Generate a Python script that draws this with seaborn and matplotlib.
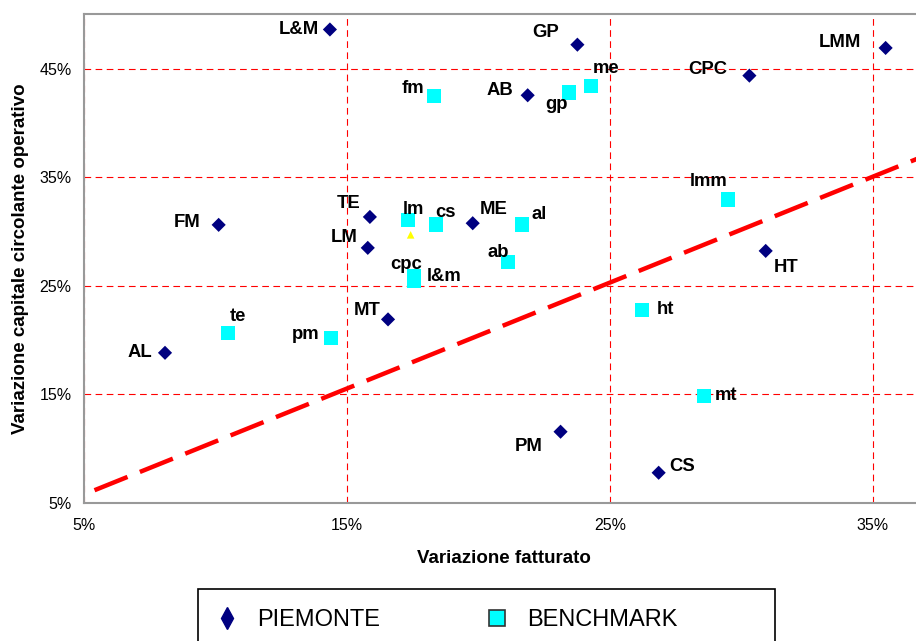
import matplotlib
matplotlib.use("Agg")
import matplotlib.pyplot as plt
import matplotlib.patches as mpatches
from matplotlib.lines import Line2D
import seaborn as sns
import pandas as pd

# --- Data (values in %) ---
piemonte_labels = ["L&M", "GP", "LMM", "CPC", "AB", "FM", "TE", "LM", "ME", "HT", "MT", "AL", "PM", "CS"]
piemonte_x = [14.35, 23.76, 35.48, 30.30, 21.87, 10.12, 15.87, 15.79, 19.78, 30.92, 16.56, 8.08, 23.12, 26.85]
piemonte_y = [48.60, 47.20, 46.90, 44.35, 42.54, 30.60, 31.33, 28.48, 30.75, 28.20, 21.89, 18.81, 11.54, 7.76]

bench_labels = ["fm", "gp", "me", "lm", "cs", "al", "ab", "cpc", "l&m", "lmm", "te", "pm", "ht", "mt"]
bench_x = [18.31, 23.44, 24.29, 17.33, 18.37, 21.64, 21.12, 17.55, 17.55, 29.49, 10.48, 14.40, 26.23, 28.56]
bench_y = [42.48, 42.79, 43.40, 31.03, 30.63, 30.63, 27.16, 25.87, 25.41, 32.94, 20.63, 20.19, 22.77, 14.85]

extra_x = [17.42]
extra_y = [29.68]

trend_x = [5.4, 36.9]
trend_y = [6.15, 36.9]

x_ticks = [5, 15, 25, 35]
y_ticks = [5, 15, 25, 35, 45]

# label placement (pixel offsets from the marker, horizontal alignment)
label_pos = {
    "L&M": (-11, 0, "right"), "GP": (-18, 12, "right"), "LMM": (-24, 5, "right"),
    "CPC": (-22, 6, "right"), "AB": (-14, 5, "right"), "FM": (-18, 2, "right"),
    "TE": (-9, 13, "right"), "LM": (-10, 10, "right"), "ME": (7, 14, "left"),
    "HT": (8, -17, "left"), "MT": (-7, 9, "right"), "AL": (-13, 0, "right"),
    "PM": (-18, -15, "right"), "CS": (11, 6, "left"),
    "fm": (-10, 7, "right"), "gp": (-1, -12, "right"), "me": (1, 17, "left"),
    "lm": (-6, 11, "left"), "cs": (0, 12, "left"), "al": (10, 10, "left"),
    "ab": (1, 10, "right"), "cpc": (8, 12, "right"), "l&m": (13, 5, "left"),
    "lmm": (-1, 18, "right"), "te": (2, 17, "left"), "pm": (-12, 3, "right"),
    "ht": (14, 0, "left"), "mt": (11, 0, "left"),
}

df_p = pd.DataFrame({"x": piemonte_x, "y": piemonte_y, "label": piemonte_labels})
df_b = pd.DataFrame({"x": bench_x, "y": bench_y, "label": bench_labels})

sns.set_style("white")
plt.rcParams["font.family"] = ["Liberation Sans", "DejaVu Sans"]
plt.rcParams["text.color"] = "black"
plt.rcParams["axes.labelcolor"] = "black"

NAVY = "#000080"
CYAN = "#00FFFF"

fig = plt.figure(figsize=(9.16, 6.41), dpi=100)
ax = fig.add_axes([84 / 916, 138.3 / 641, 840 / 916, 488.4 / 641])

# trend line
sns.lineplot(x=trend_x, y=trend_y, ax=ax, color="#FF0000", lw=3.2,
             linestyle=(0, (8, 3)), zorder=2)

sns.scatterplot(data=df_b, x="x", y="y", ax=ax, marker="s", s=105,
                color=CYAN, edgecolor="none", linewidth=0, zorder=3)
sns.scatterplot(data=df_p, x="x", y="y", ax=ax, marker="D", s=52,
                color=NAVY, edgecolor="none", linewidth=0, zorder=4)
sns.scatterplot(x=extra_x, y=extra_y, ax=ax, marker="^", s=30,
                color="#FFFF00", edgecolor="none", linewidth=0, zorder=4)

for df in (df_p, df_b):
    for _, r in df.iterrows():
        dx, dy, ha = label_pos[r["label"]]
        ax.annotate(r["label"], (r["x"], r["y"]), xytext=(dx, dy),
                    textcoords="offset pixels", ha=ha, va="center",
                    fontsize=13.3, fontweight="bold", color="black", zorder=5)

ax.set_xlim(5, 5 + 840 / 26.3)
ax.set_ylim(5, 50)
ax.set_xticks(x_ticks)
ax.set_yticks(y_ticks)
ax.set_xticklabels([f"{t}%" for t in x_ticks])
ax.set_yticklabels([f"{t}%" for t in y_ticks])
ax.tick_params(axis="both", length=0, labelsize=11.5, colors="black")
ax.tick_params(axis="x", pad=11)
ax.tick_params(axis="y", pad=9)

ax.grid(True, color="#FF0000", linestyle=(0, (6, 4)), linewidth=0.8)
ax.set_axisbelow(True)
for sp in ax.spines.values():
    sp.set_color("#999999")
    sp.set_linewidth(1.5)

ax.set_xlabel("Variazione fatturato", fontsize=13.5, fontweight="bold",
              labelpad=12, color="black")
ax.set_ylabel("Variazione capitale circolante operativo", fontsize=13.5,
              fontweight="bold", labelpad=10, color="black")
ax.yaxis.set_label_coords(-0.066, 0.5)

# legend box (cut off at the bottom of the figure)
fig.patches.append(mpatches.Rectangle((198 / 916, (641 - 589) / 641 - 0.3),
                                      (775 - 198) / 916, 0.3,
                                      transform=fig.transFigure, fill=False,
                                      edgecolor="black", linewidth=1.2))
handles = [
    Line2D([], [], marker="d", color=NAVY, linestyle="", markersize=11),
    Line2D([], [], marker="s", markerfacecolor=CYAN, markeredgecolor="#333333",
           markeredgewidth=1.2, linestyle="", markersize=11),
]
leg = fig.legend(handles, ["PIEMONTE", "BENCHMARK"], loc="center left",
                 bbox_to_anchor=(215 / 916, (641 - 620) / 641), ncol=2, frameon=False,
                 fontsize=17, handlelength=1.0, handletextpad=0.78, columnspacing=4.45,
                 borderpad=0, borderaxespad=0, labelcolor="black")

fig.savefig("out.png", dpi=100)
